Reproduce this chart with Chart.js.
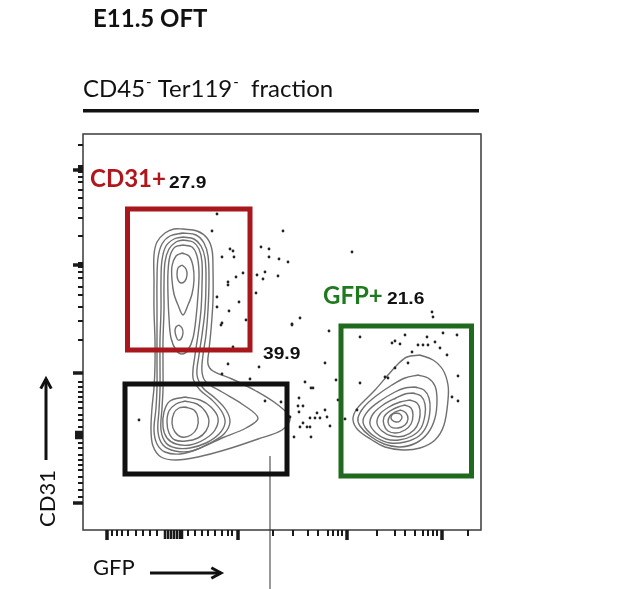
<!DOCTYPE html>
<html>
<head>
<meta charset="utf-8">
<script src="https://cdn.jsdelivr.net/npm/chart.js@4.4.1/dist/chart.umd.min.js"></script>
<style>
  html, body { margin: 0; padding: 0; background: #fff; }
  canvas { display: block; }
</style>
</head>
<body>
<canvas id="flow" width="617" height="589"></canvas>
<script>
// E11.5 OFT, CD45- Ter119- fraction : GFP (x) vs CD31 (y), display channel units

const gateNames = ["CD31+", "GFP+"];
const gatePercents = ["27.9", "21.6", "39.9"];

// gates
const cd31Gate = [[44.5, 180], [167, 180], [167, 321], [44.5, 321], [44.5, 180]];
const negGate = [[42, 56], [204, 56], [204, 146], [42, 146], [42, 56]];
const gfpGate = [[258, 54], [388.5, 54], [388.5, 204], [258, 204], [258, 54]];
const markerLine = [[187, 74], [187, -59]];

// axis ticks (logicle display)
const xMajorTicks = [24, 155, 264, 359];
const xMinorTicks = [29, 34, 39, 45, 53, 60, 67, 74, 105, 112, 119, 125, 132, 139, 145, 149,
  190, 210, 225, 235, 245, 250, 255, 259, 294, 312, 322, 332, 340, 345, 350, 354, 385];
const xDenseTicks = [82, 85, 88, 91, 94, 97, 99];
const yMajorTicks = [360, 265, 157, 27];
const yMinorTicks = [385, 364, 362, 358, 353, 348, 340, 332, 322, 312, 294, 267, 263, 258, 252, 243, 235,
  223, 209, 190, 148, 143, 138, 133, 128, 122, 115, 110, 103, 87, 82, 75, 70, 65, 60, 53, 47, 40, 33];
const yDenseTicks = [92, 94, 96, 98];

// density contours, CD31+/GFP- and CD31-/GFP- populations (outer ones merged)
const leftContours = [
  [[100,301],[114,299],[124,292],[129,280],[130,260],[130,230],[128,200],[126,180],[125,166],[130,159],[149,151],[173,139],[195,125],[207,112],[199,100],[175,91],[145,81],[115,73],[93,70],[78,73],[70,84],[68,100],[69,122],[71,142],[72,165],[72,190],[71,220],[71,250],[71,275],[74,288],[82,297],[91,301]],
  [[100,297],[113,295],[121,287],[125,274],[126,250],[125,220],[123,195],[120,175],[119,158],[123,148],[139,138],[159,126],[175,112],[163,102],[139,92],[115,81],[97,76],[82,78],[74,86],[71,100],[73,122],[74,142],[74,165],[74,190],[74,220],[74,250],[75,272],[79,286],[87,294]],
  [[100,293],[111,291],[118,284],[122,272],[123,250],[122,220],[119,195],[116,175],[114,155],[120,142],[132,132],[143,120],[147,108],[141,96],[127,87],[109,79],[92,79],[80,85],[75,98],[76,120],[77,140],[77,165],[77,190],[78,220],[78,250],[79,270],[83,284],[91,291]],
  [[100,290],[110,288],[116,281],[119,268],[119,245],[118,220],[115,195],[112,175],[110,152],[117,140],[129,130],[139,118],[142,107],[136,96],[123,87],[107,82],[93,82],[83,87],[78,100],[79,122],[80,140],[80,165],[80,190],[81,220],[81,245],[82,268],[86,281],[93,288]],
  [[100,285],[109,283],[114,274],[116,258],[115,235],[113,212],[110,192],[105,180],[99,176],[93,180],[88,192],[86,212],[85,235],[85,258],[87,274],[92,283]],
  [[99,277],[106,274],[110,264],[111,250],[109,236],[105,225],[100,215],[95,225],[91,236],[89,250],[89,264],[93,274]],
  [[99,265],[103,261],[104,255],[102,249],[98,247],[95,250],[94,256],[95,262]],
  [[96,205],[99,202],[100,197],[98,191],[95,190],[93,194],[92,199],[93,203]],
  [[102,133],[117,130],[128,123],[135,112],[132,100],[122,91],[107,85],[93,86],[84,92],[80,103],[81,118],[87,129]],
  [[102,129],[114,126],[122,119],[126,109],[123,99],[115,92],[103,89],[92,90],[86,97],[84,108],[86,119],[93,126]],
  [[102,123],[111,120],[115,112],[114,102],[108,95],[99,93],[92,98],[89,107],[91,117],[96,122]]
];

// density contours, GFP+ population
const gfpContours = [
  [[337,175],[350,170],[360,160],[365,145],[365,130],[361,105],[352,90],[337,82],[320,80],[302,83],[289,90],[275,100],[270,110],[273,120],[282,130],[292,140],[305,155],[315,166],[324,173]],
  [[335,155],[345,152],[352,144],[354,130],[352,112],[345,97],[333,87],[317,83],[301,86],[287,94],[277,104],[275,112],[281,123],[293,134],[309,145],[322,152]],
  [[332,143],[341,140],[346,132],[347,120],[344,105],[336,94],[322,88],[307,87],[294,92],[284,100],[280,109],[285,119],[297,129],[312,138],[322,142]],
  [[330,137],[338,134],[342,126],[342,115],[338,102],[329,94],[316,90],[303,91],[293,97],[287,106],[290,116],[300,125],[313,132],[322,136]],
  [[327,130],[334,127],[337,120],[336,109],[331,100],[321,94],[309,94],[299,99],[294,107],[297,116],[306,123],[317,128]],
  [[322,125],[328,122],[330,115],[328,106],[322,100],[313,97],[305,99],[301,105],[301,113],[307,119],[315,123]],
  [[318,120],[323,117],[325,111],[322,105],[315,102],[308,103],[305,108],[307,114],[312,118]],
  [[313,117],[317,116],[319,113],[317,109],[313,108],[309,110],[308,113],[310,116]]
];

// outlying events shown as dots
const events = [
  [134,316],[129,299],[200,299],[147,281],[150,279],[178,283],[186,281],[186,273],[196,271],[205,268],
  [139,273],[151,273],[269,278],[160,257],[153,253],[145,248],[145,245],[174,255],[182,258],[180,251],
  [195,254],[173,237],[134,233],[156,228],[134,223],[146,219],[139,207],[163,210],[217,212],[209,206],
  [349,218],[350,213],[138,205],[209,205],[246,199],[150,183],[145,166],[176,163],[242,167],[167,151],
  [222,148],[228,142],[230,142],[253,150],[56,110],[182,129],[198,128],[216,132],[215,124],[220,124],
  [216,118],[207,113],[242,120],[234,117],[244,113],[227,112],[232,112],[237,112],[220,107],[224,103],
  [217,103],[227,103],[247,104],[211,93],[228,93],[255,130],[262,111],[277,193],[322,195],[344,193],
  [360,197],[374,195],[309,187],[312,189],[317,186],[335,185],[340,185],[345,185],[352,188],[357,182],
  [364,175],[329,178],[277,147],[302,153],[305,152],[375,154],[375,129],[369,133],[312,162],[274,120],
  [325,167],[139,156]
];

const toPts = arr => arr.map(p => ({ x: p[0], y: p[1] }));
const closeLoop = arr => toPts(arr.concat([arr[0]]));

function gateSet(arr, color) {
  return {
    data: toPts(arr), showLine: true, pointRadius: 0, borderColor: color,
    borderWidth: 5, tension: 0, borderJoinStyle: "miter", borderCapStyle: "square"
  };
}

function contourSet(list) {
  return list.map(c => ({
    data: closeLoop(c), showLine: true, pointRadius: 0, borderColor: "#707070",
    borderWidth: 1.4, tension: 0.35, fill: false
  }));
}

const datasets = [
  gateSet(cd31Gate, "#a8171b"),
  gateSet(negGate, "#111111"),
  gateSet(gfpGate, "#1f6a1f"),
  { data: toPts(markerLine), showLine: true, pointRadius: 0, borderColor: "#555", borderWidth: 1.2, clip: false },
  { data: toPts(events), showLine: false, pointRadius: 1.4, pointBorderWidth: 0, backgroundColor: "#222" }
].concat(contourSet(leftContours), contourSet(gfpContours));

function arrow(ctx, x1, y1, x2, y2, head) {
  const ang = Math.atan2(y2 - y1, x2 - x1);
  ctx.beginPath();
  ctx.moveTo(x1, y1);
  ctx.lineTo(x2, y2);
  ctx.stroke();
  ctx.beginPath();
  ctx.moveTo(x2 - head * Math.cos(ang - 0.5), y2 - head * Math.sin(ang - 0.5));
  ctx.lineTo(x2, y2);
  ctx.lineTo(x2 - head * Math.cos(ang + 0.5), y2 - head * Math.sin(ang + 0.5));
  ctx.stroke();
}

function stretchText(ctx, text, x, y, sx) {
  ctx.save();
  ctx.translate(x, y);
  ctx.scale(sx, 1);
  ctx.fillText(text, 0, 0);
  ctx.restore();
}

const flowDecor = {
  id: "flowDecor",
  afterDraw(chart) {
    const ctx = chart.ctx, a = chart.chartArea;
    const xs = chart.scales.x, ys = chart.scales.y;
    ctx.save();

    // frame
    ctx.strokeStyle = "#3a3a3a";
    ctx.lineWidth = 1.5;
    ctx.strokeRect(a.left, a.top, a.right - a.left, a.bottom - a.top);

    // ticks
    ctx.strokeStyle = "#1a1a1a";
    const xTick = (list, len, w) => {
      ctx.lineWidth = w;
      list.forEach(v => {
        const p = xs.getPixelForValue(v);
        ctx.beginPath(); ctx.moveTo(p, a.bottom); ctx.lineTo(p, a.bottom + len); ctx.stroke();
      });
    };
    const yTick = (list, len, w) => {
      ctx.lineWidth = w;
      list.forEach(v => {
        const p = ys.getPixelForValue(v);
        ctx.beginPath(); ctx.moveTo(a.left, p); ctx.lineTo(a.left - len, p); ctx.stroke();
      });
    };
    xTick(xMinorTicks, 6, 2);
    xTick(xDenseTicks, 9, 2.5);
    xTick(xMajorTicks, 10, 3.5);
    yTick(yMinorTicks, 5, 2);
    yTick(yDenseTicks, 8, 2.5);
    yTick(yMajorTicks, 10, 3.5);

    // headings
    ctx.fillStyle = "#111";
    ctx.textBaseline = "alphabetic";
    ctx.font = "bold 24px Lato";
    ctx.fillText("E11.5 OFT", 93, 27);

    ctx.font = "24px Lato";
    let x = 83;
    const parts = [["CD45", false], ["-", true], [" Ter119", false], ["-", true], ["  fraction", false]];
    parts.forEach(([t, sup]) => {
      if (sup) {
        ctx.font = "15px Lato";
        ctx.fillText(t, x + 1, 87);
        x += ctx.measureText(t).width + 1;
        ctx.font = "24px Lato";
      } else {
        ctx.fillText(t, x, 97);
        x += ctx.measureText(t).width;
      }
    });
    ctx.fillRect(83, 109, 396, 3.5);

    // gate labels
    ctx.font = "bold 24px Lato";
    ctx.fillStyle = "#b0161b";
    ctx.fillText(gateNames[0], 90, 187);
    ctx.fillStyle = "#1f7a1f";
    ctx.fillText(gateNames[1], 323, 304);
    ctx.fillStyle = "#111";
    ctx.font = "bold 16px 'Liberation Sans'";
    stretchText(ctx, gatePercents[0], 169, 188, 1.2);
    stretchText(ctx, gatePercents[1], 387, 304, 1.2);
    stretchText(ctx, gatePercents[2], 263, 359, 1.2);

    // axis labels
    ctx.font = "22px Lato";
    ctx.fillText("GFP", 93, 575);
    ctx.strokeStyle = "#111";
    ctx.lineWidth = 3;
    arrow(ctx, 150, 573, 221, 573, 11);

    ctx.save();
    ctx.translate(55, 527);
    ctx.rotate(-Math.PI / 2);
    ctx.font = "22px Lato";
    ctx.fillText("CD31", 0, 0);
    ctx.restore();
    arrow(ctx, 46, 460, 46, 379, 11);

    ctx.restore();
  }
};

new Chart(document.getElementById("flow"), {
  type: "scatter",
  data: { datasets },
  options: {
    responsive: false,
    animation: false,
    layout: { padding: { left: 83, right: 136, top: 134, bottom: 59 } },
    scales: {
      x: { type: "linear", min: 0, max: 398, display: false },
      y: { type: "linear", min: 0, max: 396, display: false }
    },
    plugins: { legend: { display: false }, tooltip: { enabled: false } }
  },
  plugins: [flowDecor]
});
</script>
</body>
</html>
